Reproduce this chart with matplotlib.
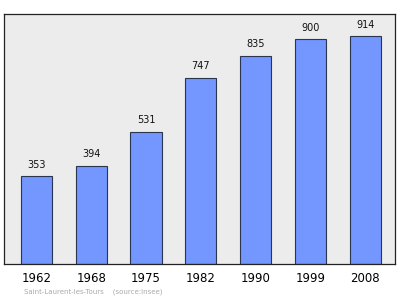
import matplotlib
matplotlib.use("Agg")
import matplotlib.pyplot as plt

years = ['1962', '1968', '1975', '1982', '1990', '1999', '2008']
population = [353, 394, 531, 747, 835, 900, 914]

fig = plt.figure(figsize=(4, 2.99), dpi=100)
ax = fig.add_axes([0.01, 0.117, 0.978, 0.836])
ax.set_facecolor('#ececec')

x = range(len(years))
ax.bar(x, population, width=0.57, color='#7396ff', edgecolor='#2a3550', linewidth=0.8)

for i, v in enumerate(population):
    ax.text(i, v + 25, str(v), ha='center', va='bottom', fontsize=7, color='#111111')

ax.set_xlim(-0.594, 6.548)
ax.set_ylim(0, 1002)
ax.set_yticks([])
ax.set_xticks(list(x))
ax.set_xticklabels(years, fontsize=8.5)
ax.tick_params(axis='x', length=0, pad=6)
for s in ax.spines.values():
    s.set_color('#222222')
    s.set_linewidth(0.9)

fig.text(0.06, 0.02, 'Saint-Laurent-les-Tours    (source:Insee)', fontsize=5, color='#aaaaaa')

fig.savefig('out.png', dpi=100)
